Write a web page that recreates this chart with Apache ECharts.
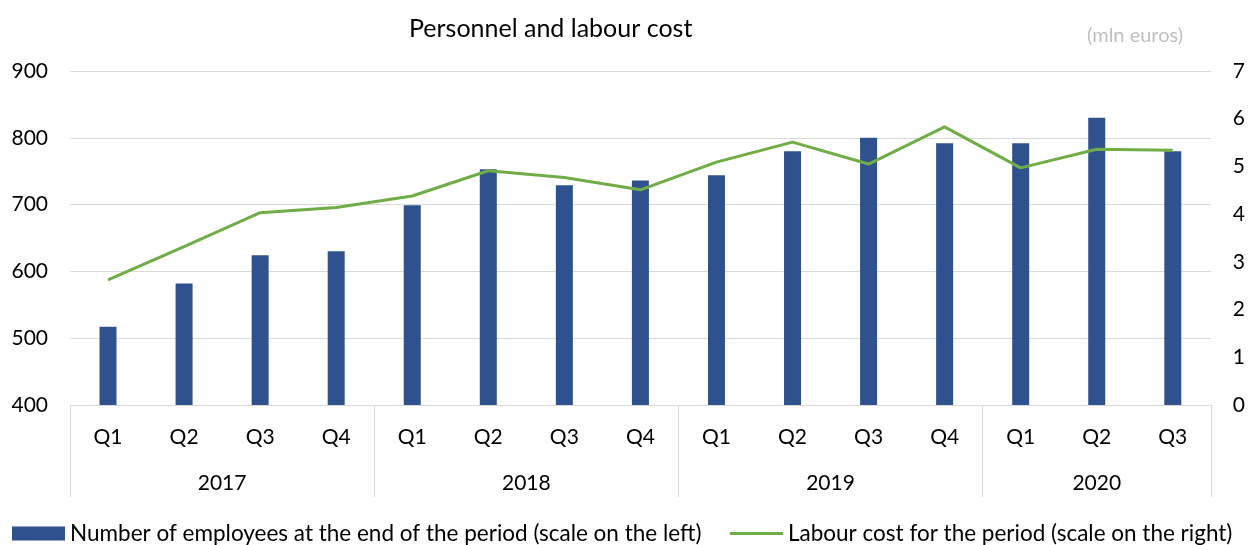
<!DOCTYPE html>
<html>
<head>
<meta charset="utf-8">
<script src="https://cdn.jsdelivr.net/npm/echarts@6/dist/echarts.min.js"></script>
<style>
  html, body { margin: 0; padding: 0; background: #fff; }
  #main { width: 1248px; height: 545px; }
</style>
</head>
<body>
<div id="main"></div>
<script>
// chart data
var quarters = ['Q1', 'Q2', 'Q3', 'Q4', 'Q1', 'Q2', 'Q3', 'Q4', 'Q1', 'Q2', 'Q3', 'Q4', 'Q1', 'Q2', 'Q3'];
var years = ['2017', '2018', '2019', '2020'];
var yearEdges = [0, 4, 8, 12, 15];
var yearCenters = [2, 6, 10, 13.5];
var employees = [517, 582, 624, 630, 699, 753, 729, 736, 744, 780, 800, 792, 792, 830, 780];
var labourCost = [2.62, 3.32, 4.03, 4.14, 4.38, 4.91, 4.77, 4.51, 5.09, 5.51, 5.05, 5.83, 4.97, 5.36, 5.34];

var FONT = 'Lato, "Noto Sans", sans-serif';
var gridColor = '#d9d9d9';

var myChart = echarts.init(document.getElementById('main'));
var option = {
    animation: false,
    textStyle: { fontFamily: FONT },
    title: [
        {
            text: 'Personnel and labour cost',
            left: 404,
            top: 11,
            textStyle: { fontFamily: FONT, fontSize: 25, fontWeight: 'normal', color: '#000' }
        },
        {
            text: '(mln euros)',
            left: 1082,
            top: 21,
            textStyle: { fontFamily: FONT, fontSize: 20, fontWeight: 'normal', color: '#bfbfbf' }
        }
    ],
    legend: {
        left: 7,
        top: 517,
        itemWidth: 53,
        itemHeight: 14,
        itemGap: 27,
        textStyle: { fontFamily: FONT, fontSize: 22.5, color: '#000' },
        data: [
            { name: 'Number of employees at the end of the period (scale on the left)', icon: 'rect' },
            {
                name: 'Labour cost for the period (scale on the right)',
                itemStyle: { opacity: 0 },
                lineStyle: { width: 3, color: '#70ad47' }
            }
        ]
    },
    grid: {
        left: 70,
        right: 37,
        top: 71,
        bottom: 140
    },
    xAxis: [
        {
            type: 'category',
            data: quarters,
            axisLine: { lineStyle: { color: gridColor, width: 1 } },
            axisTick: { show: false },
            axisLabel: { margin: 22, fontSize: 21, color: '#000', fontFamily: FONT }
        },
        {
            type: 'value',
            min: 0,
            max: 15,
            position: 'bottom',
            axisLine: { show: false },
            splitLine: { show: false },
            axisTick: {
                show: true,
                customValues: yearEdges,
                length: 92,
                lineStyle: { color: gridColor, width: 1 }
            },
            axisLabel: {
                customValues: yearCenters,
                margin: 68,
                fontSize: 21,
                color: '#000',
                fontFamily: FONT,
                formatter: function (v) {
                    return years[yearCenters.indexOf(v)];
                }
            }
        }
    ],
    yAxis: [
        {
            type: 'value',
            min: 400,
            max: 900,
            interval: 100,
            axisLine: { show: false },
            axisTick: { show: false },
            splitLine: { lineStyle: { color: gridColor, width: 1 } },
            axisLabel: { margin: 22, fontSize: 21, color: '#000', fontFamily: FONT }
        },
        {
            type: 'value',
            min: 0,
            max: 7,
            interval: 1,
            position: 'right',
            axisLine: { show: false },
            axisTick: { show: false },
            splitLine: { show: false },
            axisLabel: { margin: 22, fontSize: 21, color: '#000', fontFamily: FONT }
        }
    ],
    series: [
        {
            name: 'Number of employees at the end of the period (scale on the left)',
            type: 'bar',
            xAxisIndex: 0,
            yAxisIndex: 0,
            barWidth: 17,
            itemStyle: { color: '#2f528f' },
            data: employees
        },
        {
            name: 'Labour cost for the period (scale on the right)',
            type: 'line',
            xAxisIndex: 0,
            yAxisIndex: 1,
            symbol: 'none',
            lineStyle: { color: '#70ad47', width: 3 },
            itemStyle: { color: '#70ad47' },
            data: labourCost
        }
    ]
};
myChart.setOption(option);
</script>
</body>
</html>
